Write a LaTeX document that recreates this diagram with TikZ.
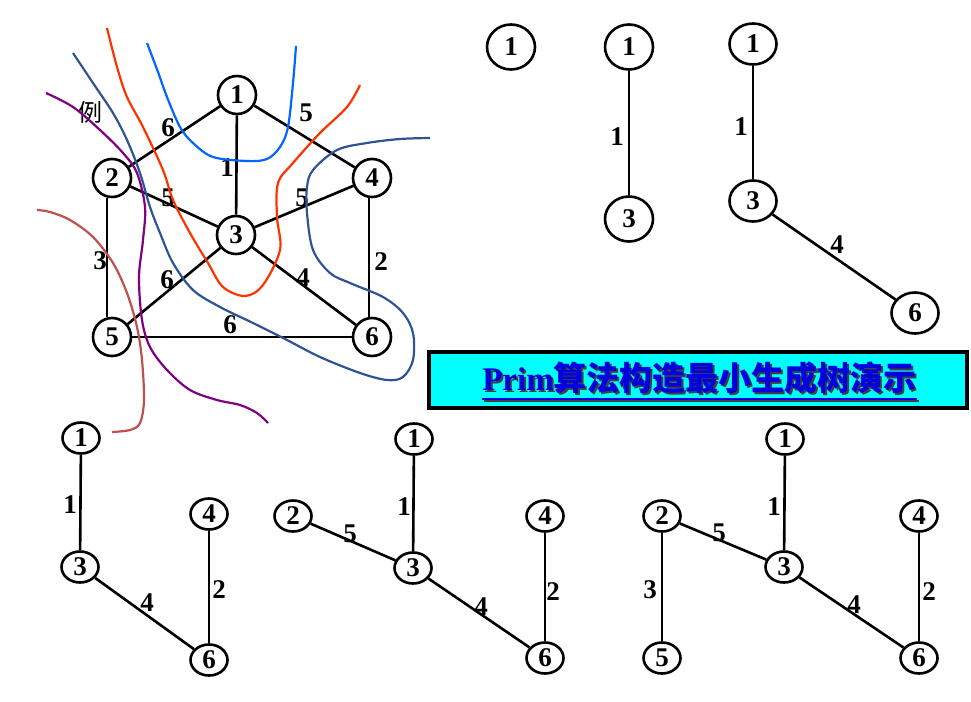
\documentclass[tikz,border=0pt]{standalone}
\usepackage{fontspec}
\setmainfont{Liberation Serif}
\newfontfamily\cjk{Noto Sans CJK SC}
\usetikzlibrary{shapes.geometric}
\definecolor{cvblue}{RGB}{0,102,255}
\definecolor{cvred}{RGB}{255,51,0}
\definecolor{cvnavy}{RGB}{47,84,150}
\definecolor{cvpurple}{RGB}{128,0,128}
\definecolor{cvbrown}{RGB}{192,80,77}
\definecolor{titlefill}{RGB}{0,255,255}
\definecolor{titleblue}{RGB}{0,0,225}
\tikzset{
  vtx/.style={draw=black, line width=2.6pt, inner sep=0pt, font=\fontsize{27}{29}\selectfont\bfseries},
  nA/.style={vtx, circle, minimum size=38pt},
  nB/.style={vtx, ellipse, minimum width=48pt, minimum height=45pt},
  nC/.style={vtx, ellipse, minimum width=47pt, minimum height=41pt},
  nD/.style={vtx, ellipse, minimum width=37pt, minimum height=31pt},
  wt/.style={inner sep=0pt, font=\fontsize{27}{29}\selectfont\bfseries},
  edg/.style={draw=black, line width=2.6pt},
  curve/.style={line width=2.2pt, smooth, tension=0.55},
}
\begin{document}
\begin{tikzpicture}[x=1pt,y=-1pt]
\useasboundingbox (0,0) rectangle (971,701);
% ---------- original graph ----------
\node[nA] (A1) at (237,95) {1};
\node[nA] (A2) at (112,178) {2};
\node[nA] (A4) at (372,178) {4};
\node[nA] (A3) at (236,235) {3};
\node[nA] (A5) at (112,337) {5};
\node[nA] (A6) at (372,337) {6};
\draw[edg] (A1) -- (A2);
\draw[edg] (A1) -- (A3);
\draw[edg] (A1) -- (A4);
\draw[edg] (A2) -- (A3);
\draw[edg] ([xshift=-5pt]A2.south) -- ([xshift=-5pt]A5.north);
\draw[edg] (A3) -- (A4);
\draw[edg] (A3) -- (A5);
\draw[edg] (A3) -- (A6);
\draw[edg] ([xshift=-3pt]A4.south) -- ([xshift=-3pt]A6.north);
\draw[edg] (A5) -- (A6);
\node[wt] (wA12) at (168,128) {6};
\node[wt] (wA14) at (306,113) {5};
\node[wt] (wA13) at (227,168) {1};
\node[wt] (wA23) at (168,198) {5};
\node[wt] (wA34) at (302,198) {5};
\node[wt] (wA25) at (100,261) {3};
\node[wt] (wA46) at (381,262) {2};
\node[wt] (wA35) at (167,280) {6};
\node[wt] (wA36) at (303,278) {4};
\node[wt] (wA56) at (230,325) {6};
\node[inner sep=0pt, font=\cjk\fontsize{24}{26}\selectfont] (li) at (90,112) {例};
% ---------- hand-drawn cut curves ----------
\draw[curve, cvblue] plot coordinates {(147,43) (158,72) (167,97) (180,127) (193,143) (213,157) (247,161) (267,159) (280,147) (288,127) (293,83) (296,46)};
\draw[curve, cvred] plot coordinates {(107,28) (117,67) (127,97) (143,127) (163,170) (173,200) (190,233) (208,263) (223,287) (245,296) (263,285) (280,250) (277,217) (278,183) (293,163) (320,133) (347,107) (360,85)};
\draw[curve, cvnavy] plot coordinates {(73,53) (93,83) (113,113) (127,140) (140,173) (150,207) (160,233) (173,263) (193,290) (220,307) (253,323) (287,340) (320,357) (360,373) (387,380) (403,377) (413,360) (413,333) (403,313) (383,297) (350,283) (330,273) (313,250) (307,213) (307,187) (313,170) (337,150) (367,143) (400,139) (430,138)};
\draw[curve, cvpurple] plot coordinates {(46,93) (73,107) (100,130) (123,153) (137,173) (145,207) (143,240) (139,277) (142,320) (150,347) (167,370) (190,390) (217,400) (240,405) (257,413) (268,423)};
\draw[curve, cvbrown] plot coordinates {(37,210) (50,212) (70,220) (93,237) (113,263) (127,293) (137,327) (142,360) (144,400) (140,423) (130,430) (112,432)};
% ---------- step 1 ----------
\node[nB] (B1) at (511,47) {1};
% ---------- step 2 ----------
\node[nB] (C1) at (629,47) {1};
\node[nB] (C3) at (629,219) {3};
\draw[edg] (C1) -- (C3);
\node[wt] (wC13) at (617,137) {1};
% ---------- step 3 ----------
\node[nC] (D1) at (753,44) {1};
\node[nC] (D3) at (753,201) {3};
\node[nC] (D6) at (915,313) {6};
\draw[edg] (D1) -- (D3);
\draw[edg] (D3) -- (D6);
\node[wt] (wD13) at (741,127) {1};
\node[wt] (wD36) at (837,245) {4};
% ---------- title ----------
\node[draw=black, line width=4pt, fill=titlefill, minimum width=538pt, minimum height=56pt, inner sep=0pt] (tbox) at (698,380) {};
\node[anchor=base, inner sep=0pt, text=black!75, font=\fontsize{33}{36}\selectfont\bfseries] (tshadow) at (701.5,392) {Prim{\cjk 算法构造最小生成树演示}};
\node[anchor=base, inner sep=0pt, text=titleblue, font=\fontsize{33}{36}\selectfont\bfseries] (title) at (699.5,390) {Prim{\cjk 算法构造最小生成树演示}};
\draw[black!75, line width=2pt] ([xshift=2pt,yshift=-11pt]title.base west) -- ([xshift=2pt,yshift=-11pt]title.base east);
\draw[titleblue, line width=2pt] ([yshift=-9pt]title.base west) -- ([yshift=-9pt]title.base east);
% ---------- step 4 ----------
\node[nD] (E1) at (81,438) {1};
\node[nD] (E3) at (80,567) {3};
\node[nD] (E4) at (209,514) {4};
\node[nD] (E6) at (209,660) {6};
\draw[edg] (E1) -- (E3);
\draw[edg] (E3) -- (E6);
\draw[edg] (E4) -- (E6);
\node[wt] (wE13) at (70,505) {1};
\node[wt] (wE36) at (147,603) {4};
\node[wt] (wE46) at (219,590) {2};
% ---------- step 5 ----------
\node[nD] (F1) at (414,439) {1};
\node[nD] (F2) at (293,516) {2};
\node[nD] (F3) at (413,568) {3};
\node[nD] (F4) at (545,516) {4};
\node[nD] (F6) at (545,658) {6};
\draw[edg] (F1) -- (F3);
\draw[edg] (F2) -- (F3);
\draw[edg] (F3) -- (F6);
\draw[edg] (F4) -- (F6);
\node[wt] (wF13) at (404,507) {1};
\node[wt] (wF23) at (350,534) {5};
\node[wt] (wF36) at (481,607) {4};
\node[wt] (wF46) at (553,592) {2};
% ---------- step 6 ----------
\node[nD] (G1) at (785,439) {1};
\node[nD] (G2) at (662,516) {2};
\node[nD] (G3) at (784,567) {3};
\node[nD] (G4) at (919,516) {4};
\node[nD] (G5) at (662,658) {5};
\node[nD] (G6) at (919,658) {6};
\draw[edg] (G1) -- (G3);
\draw[edg] (G2) -- (G3);
\draw[edg] (G2) -- (G5);
\draw[edg] (G3) -- (G6);
\draw[edg] (G4) -- (G6);
\node[wt] (wG13) at (774,507) {1};
\node[wt] (wG23) at (719,533) {5};
\node[wt] (wG25) at (650,590) {3};
\node[wt] (wG36) at (854,605) {4};
\node[wt] (wG46) at (929,592) {2};
\end{tikzpicture}
\end{document}
